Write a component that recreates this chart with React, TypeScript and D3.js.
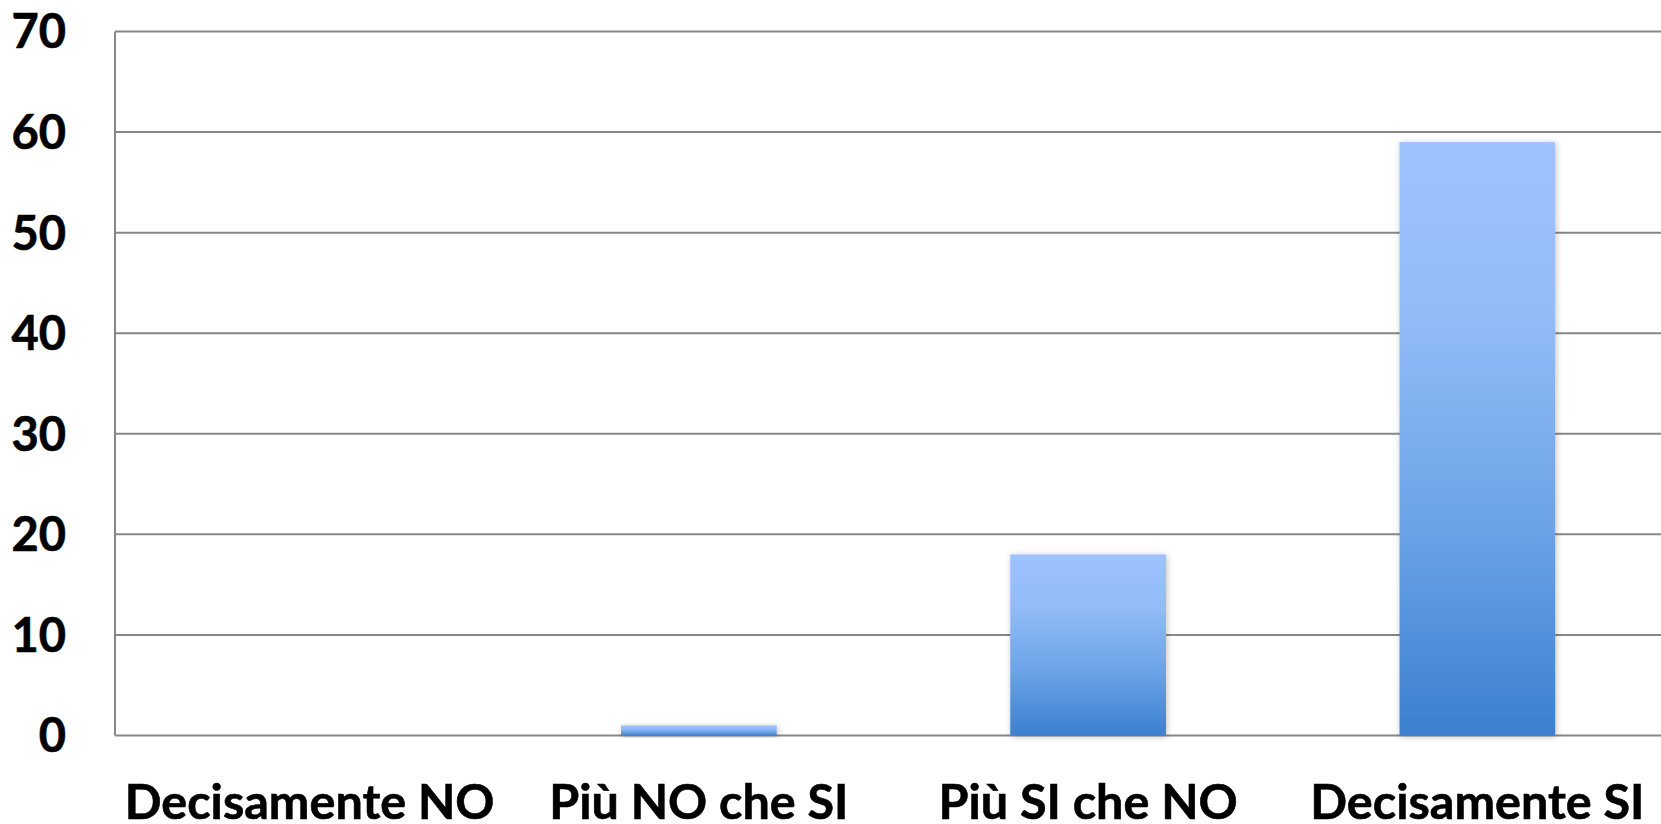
import React from "react";
import * as d3 from "d3";

const categories = ["Decisamente NO", "Più NO che SI", "Più SI che NO", "Decisamente SI"];
const values = [0, 1, 18, 59];
const yTicks = [0, 10, 20, 30, 40, 50, 60, 70];

const W = 1661;
const H = 824;
const left = 115;
const plotRight = 1672;
const top = 31.5;
const bottom = 735.5;
const FONT = "Lato, 'Open Sans', sans-serif";

export default function App() {
  const x = d3
    .scaleBand<string>()
    .domain(categories)
    .range([left, plotRight])
    .paddingInner(0.6)
    .paddingOuter(0.3);
  const y = d3.scaleLinear().domain([0, 70]).range([bottom, top]);

  return (
    <svg
      width={W}
      height={H}
      style={{ position: "absolute", left: 0, top: 0, background: "#fff" }}
    >
      <defs>
        <linearGradient id="barGrad" x1="0" y1="0" x2="0" y2="1">
          <stop offset="0" stopColor="#9DC3FF" />
          <stop offset="0.3" stopColor="#92BBF8" />
          <stop offset="0.65" stopColor="#6BA3E6" />
          <stop offset="1" stopColor="#3A80D0" />
        </linearGradient>
        <filter id="shadow" x="-20%" y="-20%" width="140%" height="140%">
          <feDropShadow dx="1" dy="1" stdDeviation="3" floodColor="#000" floodOpacity="0.25" />
        </filter>
      </defs>
      {yTicks.map((t) => (
        <line
          key={"g" + t}
          x1={left}
          x2={W}
          y1={y(t)}
          y2={y(t)}
          stroke="#878787"
          strokeWidth={2}
        />
      ))}
      <line x1={left} x2={left} y1={top} y2={bottom} stroke="#878787" strokeWidth={2} />
      {categories.map((c, i) => {
        const v = values[i];
        if (v <= 0) return null;
        return (
          <rect
            key={c}
            x={x(c)}
            y={y(v)}
            width={x.bandwidth()}
            height={bottom - y(v)}
            fill="url(#barGrad)"
            filter="url(#shadow)"
          />
        );
      })}
      {yTicks.map((t) => (
        <text
          key={"t" + t}
          x={66}
          y={y(t)}
          dy="0.36em"
          textAnchor="end"
          fontFamily={FONT}
          fontWeight={700}
          fontSize={47}
          fill="#000"
          stroke="#000"
          strokeWidth={0.6}
        >
          {t}
        </text>
      ))}
      {categories.map((c) => (
        <text
          key={"x" + c}
          x={(x(c) as number) + x.bandwidth() / 2}
          y={819}
          textAnchor="middle"
          fontFamily={FONT}
          fontWeight={700}
          fontSize={48.5}
          fill="#000"
          stroke="#000"
          strokeWidth={0.6}
        >
          {c}
        </text>
      ))}
    </svg>
  );
}
